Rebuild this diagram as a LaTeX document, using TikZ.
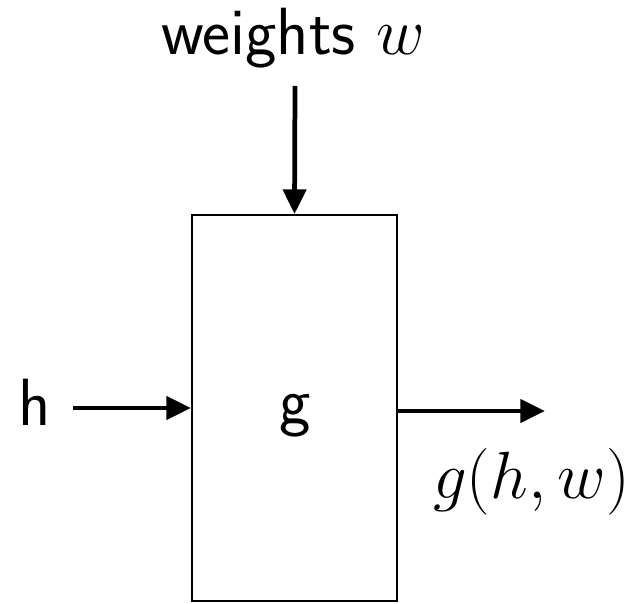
\documentclass[tikz,border=0pt]{standalone}
\usepackage{fix-cm}
\usetikzlibrary{arrows.meta, positioning}
\tikzset{
  % blocco della funzione
  funcbox/.style={draw=black, line width=1.1pt, minimum width=4.1cm,
    minimum height=7.72cm, inner sep=0pt},
  % freccia di ingresso/uscita
  flow/.style={-{Triangle[length=14pt, width=13pt]}, line width=2.7pt},
  % etichette grandi
  biglbl/.style={font=\fontsize{38}{44}\selectfont\sffamily, inner sep=0pt, anchor=base},
}
\begin{document}
\begin{tikzpicture}
  \useasboundingbox (0,0) rectangle (12.76,12.06);
  \node[funcbox] (box) at (5.89,3.9) {};
  \node[biglbl] (glab) at (5.9,3.6) {g};
  \node[biglbl] (weights) at (5.87,10.96) {weights $w$};
  \node[biglbl] (h) at (0.69,3.56) {h};
  \node[biglbl] (out) at (10.63,2.1) {$g(h,w)$};
  \coordinate (wtail) at (5.9,10.34);
  \coordinate (htail) at (1.46,3.9);
  \coordinate (otip) at (10.9,3.84);
  \draw[flow] (wtail) -- (box.north);
  \draw[flow] (htail) -- (box.west);
  \draw[flow] (box.east |- otip) -- (otip);
\end{tikzpicture}
\end{document}
